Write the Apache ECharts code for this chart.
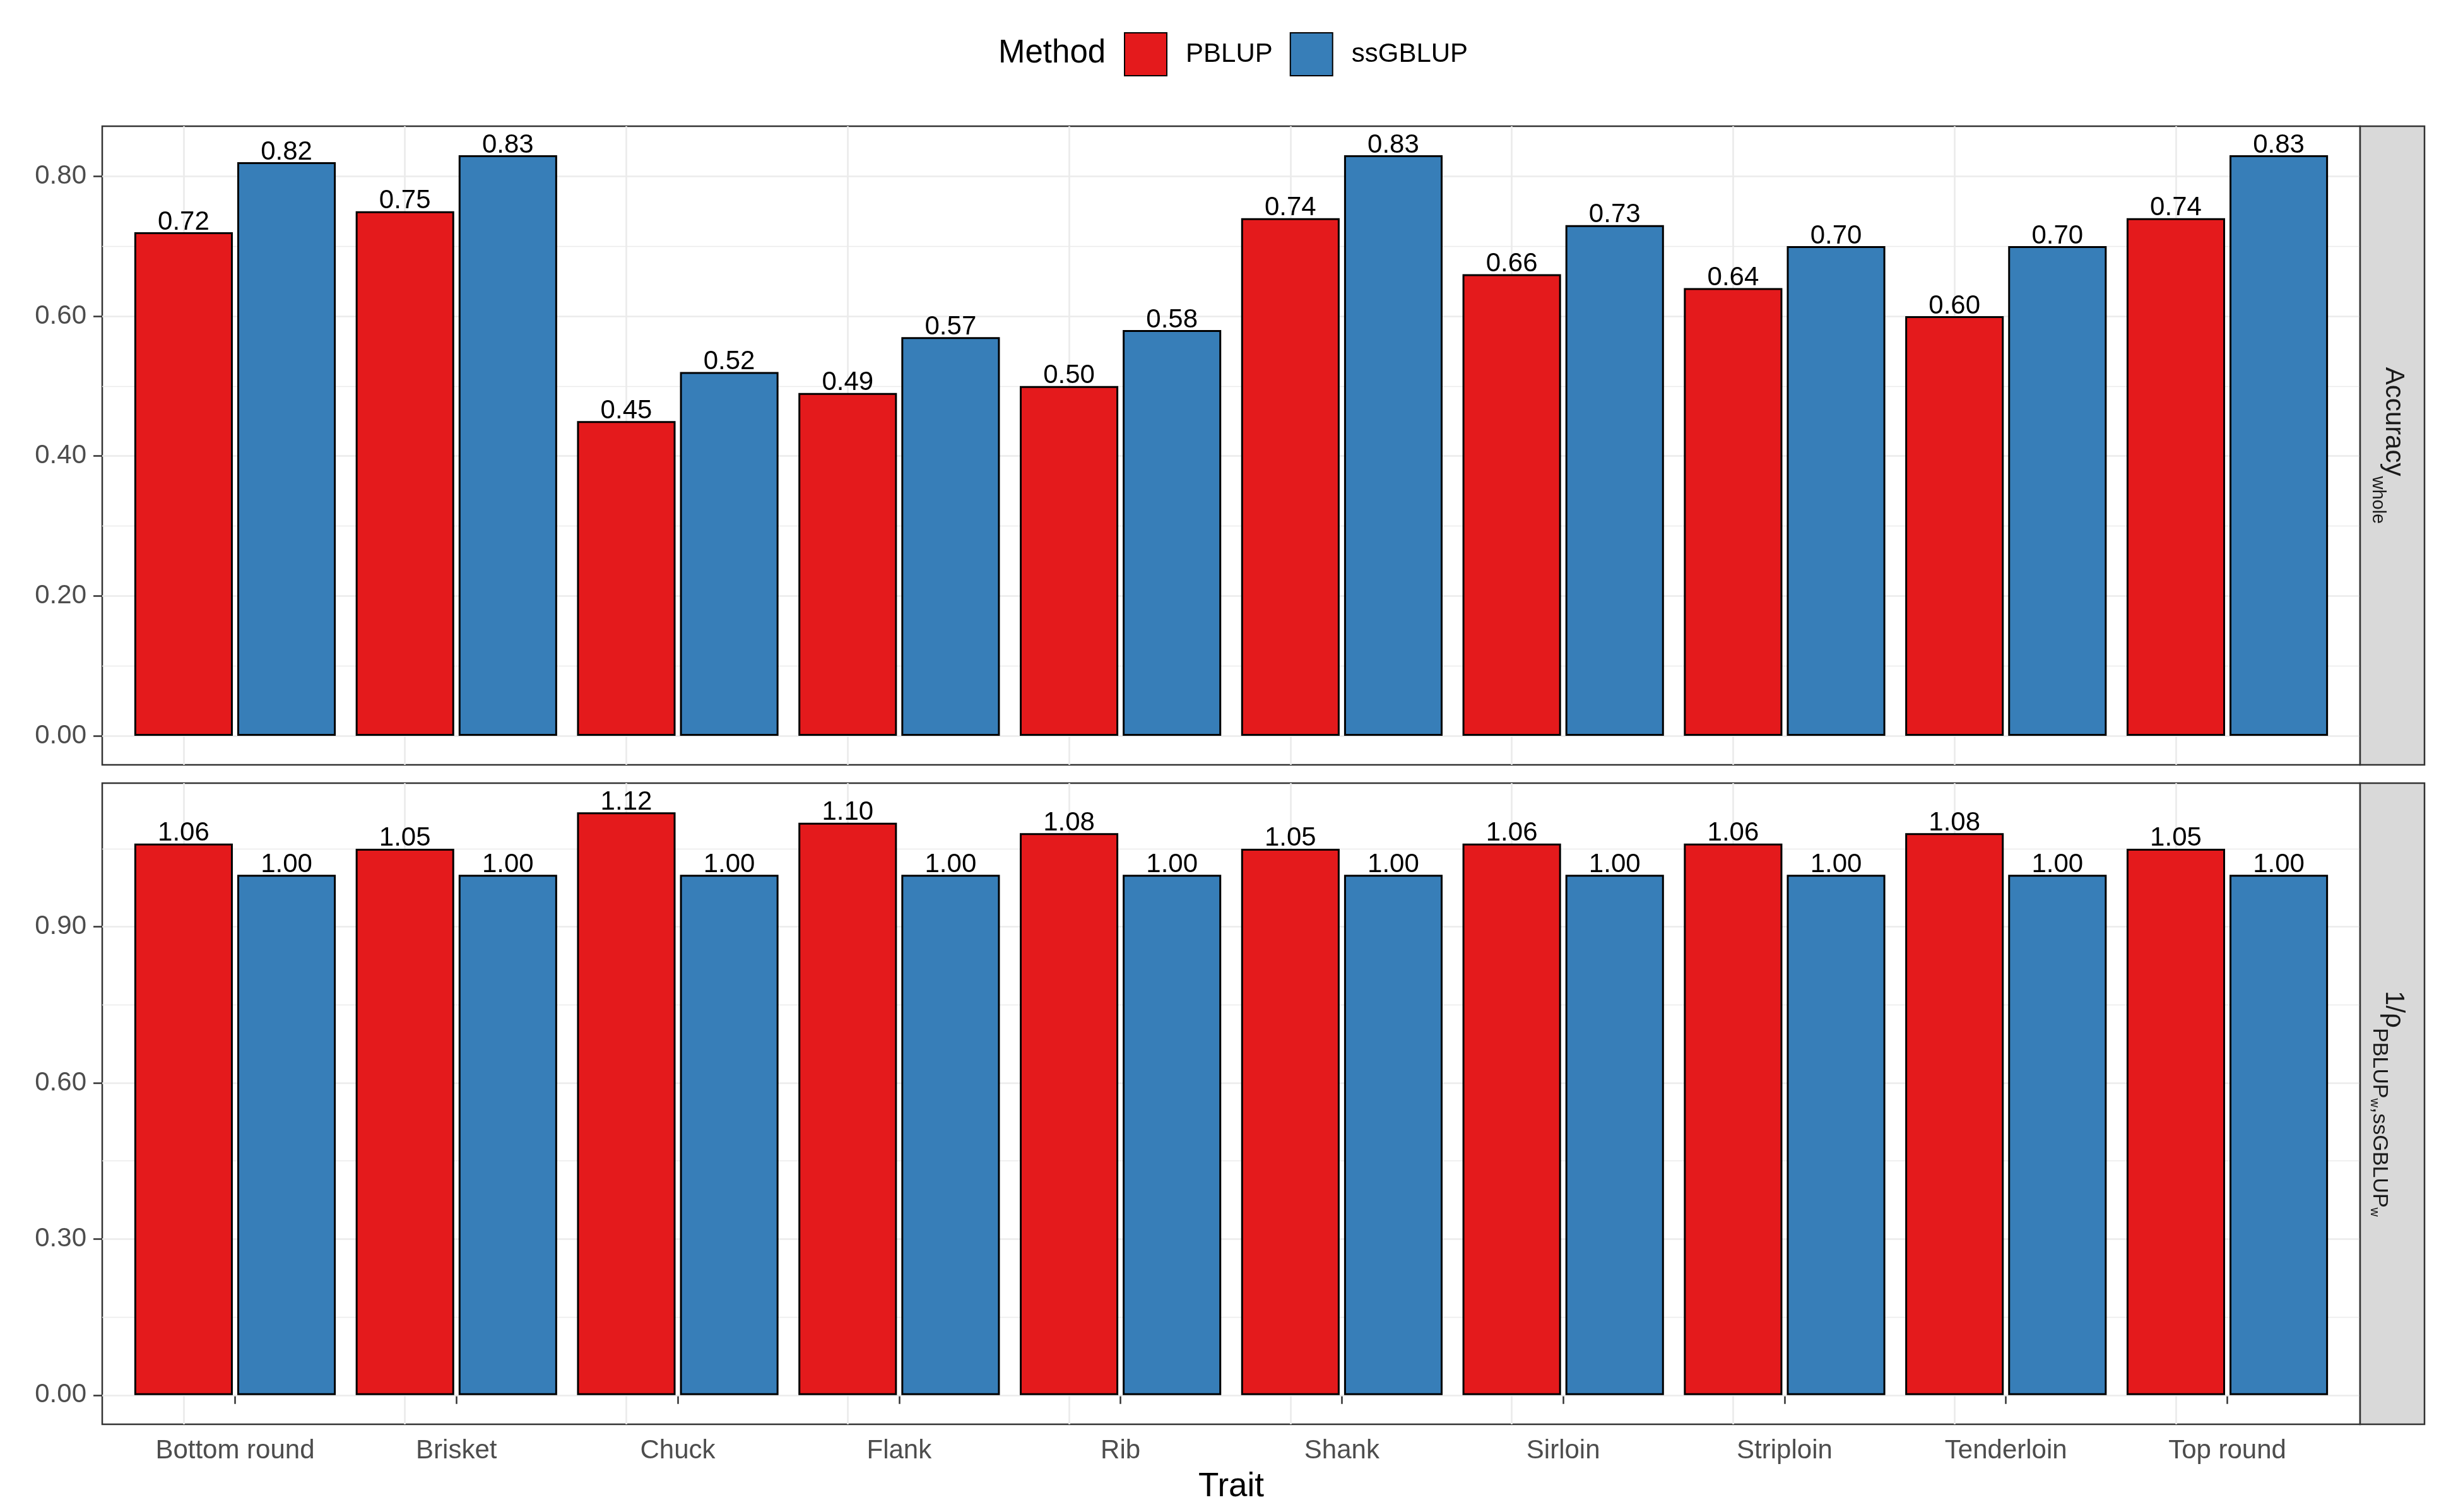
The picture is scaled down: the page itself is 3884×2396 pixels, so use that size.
<!DOCTYPE html>
<html><head><meta charset="utf-8">
<script src="https://cdn.jsdelivr.net/npm/echarts@6/dist/echarts.min.js"></script>
<style>html,body{margin:0;padding:0;background:#fff}#c{width:3884px;height:2396px}</style>
</head><body><div id="c"></div>
<script>
// ---------- data ----------
const traits = ['Bottom round','Brisket','Chuck','Flank','Rib','Shank','Sirloin','Striploin','Tenderloin','Top round'];
const methods = ['PBLUP','ssGBLUP'];
const accPBLUP    = [0.72,0.75,0.45,0.49,0.50,0.74,0.66,0.64,0.60,0.74];
const accSsGBLUP  = [0.82,0.83,0.52,0.57,0.58,0.83,0.73,0.70,0.70,0.83];
const ratioPBLUP  = [1.06,1.05,1.12,1.10,1.08,1.05,1.06,1.06,1.08,1.05];
const ratioSsGBLUP= [1.00,1.00,1.00,1.00,1.00,1.00,1.00,1.00,1.00,1.00];
const accTicks   = [0,0.2,0.4,0.6,0.8];
const accMinor   = [0.1,0.3,0.5,0.7];
const ratioTicks = [0,0.3,0.6,0.9];
const ratioMinor = [0.15,0.45,0.75,1.05];
const traitPos = traits.map((t,i)=>i+1);

// ---------- layout / style ----------
const FONT = 'Liberation Sans';
const W = 3884;
const panelL = 162, panelR = 3740, stripR = 3842;
const panels = [{top:200, bottom:1212}, {top:1241, bottom:2257}];
const RED = '#E41A1C', BLUE = '#377EB8';
const BORDER = '#333333';
const majorLS = {color:'#EBEBEB', width:2.7, type:'solid'};
const minorLS = {color:'#EBEBEB', width:1.4, type:'solid'};

function expandRange(vals){
  const mx = Math.max(...vals, 0), mn = Math.min(...vals, 0);
  const pad = 0.05*(mx-mn);
  return [mn-pad, mx+pad];
}
const accRange = expandRange(accPBLUP.concat(accSsGBLUP));
const ratioRange = expandRange(ratioPBLUP.concat(ratioSsGBLUP));

const chart = echarts.init(document.getElementById('c'), null, {renderer:'canvas'});

const grids = panels.map(p=>({
  left: panelL, right: W-panelR, top: p.top, height: p.bottom-p.top,
  show: true, borderColor: BORDER, borderWidth: 2.5, backgroundColor:'#fff',
  containLabel:false, outerBoundsMode:'none'
}));

const xAxes = [0,1].map(g=>({
  type:'value', gridIndex:g, min:0.4, max:traits.length+0.6,
  axisLine:{show:false}, splitLine:{show:false},
  axisTick:{show:g===1, customValues:traitPos, length:14, lineStyle:{color:BORDER, width:2.5}},
  axisLabel:{show:g===1, customValues:traitPos, margin:21, fontSize:42, lineHeight:42, color:'#4D4D4D', fontFamily:FONT,
    formatter:v=>traits[Math.round(v)-1]},
  name: g===1 ? 'Trait' : '', nameLocation:'middle', nameGap:73,
  nameTextStyle:{fontSize:53, lineHeight:53, color:'#000', fontFamily:FONT}
}));

function yAxis(g, range, ticks){
  return {
    type:'value', gridIndex:g, min:range[0], max:range[1],
    axisLine:{show:false}, splitLine:{show:false},
    axisTick:{show:true, customValues:ticks, length:14, lineStyle:{color:BORDER, width:2.5}},
    axisLabel:{show:true, customValues:ticks, margin:25, fontSize:42, color:'#4D4D4D', fontFamily:FONT,
      formatter:v=>v.toFixed(2)}
  };
}
const yAxes = [yAxis(0, accRange, accTicks), yAxis(1, ratioRange, ratioTicks)];

function gridLines(ticks, minor){
  return {
    silent:true, z:1, symbol:['none','none'], label:{show:false}, emphasis:{disabled:true},
    animation:false,
    data: [
      ...traitPos.map(x=>({xAxis:x, lineStyle:majorLS})),
      ...minor.map(v=>({yAxis:v, lineStyle:minorLS})),
      ...ticks.map(v=>({yAxis:v, lineStyle:majorLS}))
    ]
  };
}

function barSeries(name, vals, g, color, ml){
  const s = {
    name, type:'bar', xAxisIndex:g, yAxisIndex:g, z:2,
    data: vals.map((v,i)=>[traitPos[i], v]),
    barGap:'4.5%', barCategoryGap:'9%',
    itemStyle:{color, borderColor:'#000', borderWidth:3},
    label:{show:true, position:'top', distance:-5, fontSize:42, lineHeight:42, color:'#000', fontFamily:FONT,
      formatter:p=>p.value[1].toFixed(2)},
    emphasis:{disabled:true}
  };
  if (ml) s.markLine = ml;
  return s;
}

const series = [
  barSeries(methods[0], accPBLUP, 0, RED, gridLines(accTicks, accMinor)),
  barSeries(methods[1], accSsGBLUP, 0, BLUE),
  barSeries(methods[0], ratioPBLUP, 1, RED, gridLines(ratioTicks, ratioMinor)),
  barSeries(methods[1], ratioSsGBLUP, 1, BLUE)
];

const stripCx = (panelR+stripR)/2 + 2;
const graphic = [
  {type:'rect', shape:{x:panelR, y:panels[0].top, width:stripR-panelR, height:panels[0].bottom-panels[0].top},
   style:{fill:'#D9D9D9', stroke:BORDER, lineWidth:2.5}, z:10},
  {type:'rect', shape:{x:panelR, y:panels[1].top, width:stripR-panelR, height:panels[1].bottom-panels[1].top},
   style:{fill:'#D9D9D9', stroke:BORDER, lineWidth:2.5}, z:10},
  {type:'text', x:stripCx, y:(panels[0].top+panels[0].bottom)/2, rotation:-Math.PI/2, z:11,
   style:{text:'{a|Accuracy}{b|whole}', align:'center', verticalAlign:'middle', fill:'#1A1A1A',
     rich:{
       a:{fontSize:42, fontFamily:FONT, lineHeight:80, fill:'#1A1A1A', color:'#1A1A1A'},
       b:{fontSize:29, fontFamily:FONT, lineHeight:52, verticalAlign:'bottom', fill:'#1A1A1A', color:'#1A1A1A'}
     }}},
  {type:'text', x:stripCx, y:(panels[1].top+panels[1].bottom)/2, rotation:-Math.PI/2, z:11,
   style:{text:'{a|1/ρ}{b|PBLUP}{c|w}{b|,ssGBLUP}{c|w}', align:'center', verticalAlign:'middle', fill:'#1A1A1A',
     rich:{
       a:{fontSize:42, fontFamily:FONT, lineHeight:80, fill:'#1A1A1A', color:'#1A1A1A'},
       b:{fontSize:34, fontFamily:FONT, lineHeight:61, verticalAlign:'bottom', fill:'#1A1A1A', color:'#1A1A1A'},
       c:{fontSize:20, fontFamily:FONT, lineHeight:40, verticalAlign:'bottom', fill:'#1A1A1A', color:'#1A1A1A'}
     }}},
  {type:'text', x:1582, y:85, z:11,
   style:{text:'Method', fontSize:51, fontFamily:FONT, fill:'#000', align:'left', verticalAlign:'middle'}}
];

chart.setOption({
  animation:false,
  backgroundColor:'#fff',
  textStyle:{fontFamily:FONT},
  legend:{data:methods, left:1781, top:51, orient:'horizontal', padding:0,
    itemWidth:67, itemHeight:68, itemGap:27, icon:'rect', selectedMode:false,
    textStyle:{fontSize:42, color:'#000', fontFamily:FONT, padding:[0,0,0,25]}},
  grid: grids,
  xAxis: xAxes,
  yAxis: yAxes,
  series,
  graphic
});
</script></body></html>
